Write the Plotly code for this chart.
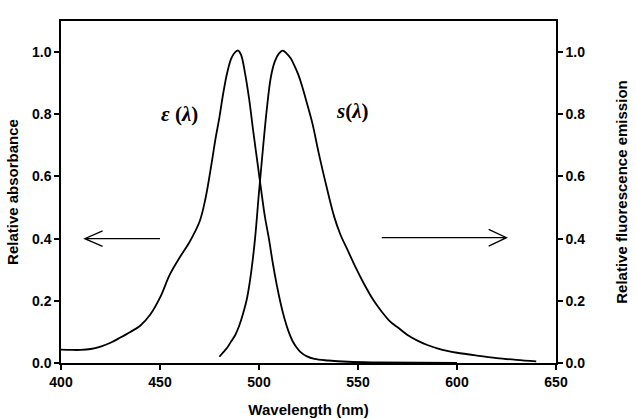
import plotly.graph_objects as go

# absorbance spectrum epsilon(lambda)
abs_wl = [400, 405, 410, 415, 420, 425, 430, 435, 440, 445, 450, 455, 460, 465, 470,
          473, 476, 478, 480, 482, 484, 486, 488, 489.5, 491, 493, 495, 497, 499,
          501, 503, 505, 507, 509, 511, 513, 515, 517, 519, 521, 524, 528, 535, 545,
          560, 600]
abs_val = [0.043, 0.042, 0.042, 0.045, 0.053, 0.065, 0.082, 0.10, 0.12, 0.155, 0.21,
           0.285, 0.34, 0.39, 0.455, 0.53, 0.64, 0.72, 0.79, 0.87, 0.935, 0.98, 1.0,
           1.005, 0.99, 0.93, 0.85, 0.75, 0.655, 0.56, 0.47, 0.40, 0.32, 0.25, 0.19,
           0.14, 0.10, 0.07, 0.05, 0.035, 0.022, 0.013, 0.008, 0.004, 0.002, 0.0]

# fluorescence emission spectrum s(lambda)
em_wl = [480, 482, 484, 486, 488, 490, 492, 494, 496, 498, 500, 502, 504, 506, 508,
         510, 512, 514, 516, 518, 520, 522, 524, 527, 530, 534, 538, 541, 545, 549,
         553, 558, 562, 566, 570, 575, 580, 585, 590, 595, 600, 610, 620, 630, 640]
em_val = [0.02, 0.035, 0.05, 0.07, 0.09, 0.12, 0.16, 0.21, 0.29, 0.40, 0.55, 0.69,
          0.82, 0.92, 0.97, 0.995, 1.005, 0.995, 0.98, 0.955, 0.925, 0.885, 0.84, 0.77,
          0.68, 0.57, 0.47, 0.415, 0.36, 0.305, 0.255, 0.20, 0.165, 0.135, 0.115,
          0.09, 0.072, 0.058, 0.047, 0.039, 0.033, 0.024, 0.016, 0.01, 0.005]

x_ticks = [400, 450, 500, 550, 600, 650]
y_ticks = [0.0, 0.2, 0.4, 0.6, 0.8, 1.0]

font = "Liberation Sans, Arial, sans-serif"
axis_style = dict(showline=True, linecolor="black", linewidth=1.5, ticks="outside",
                  ticklen=5, tickwidth=1.5, tickcolor="black", showgrid=False,
                  zeroline=False, automargin=False,
                  tickfont=dict(family=font, size=14, color="black"))

fig = go.Figure()
fig.add_trace(go.Scatter(x=abs_wl, y=abs_val, mode="lines",
                         line=dict(color="black", width=1.8, shape="spline"),
                         showlegend=False))
fig.add_trace(go.Scatter(x=em_wl, y=em_val, mode="lines", yaxis="y2",
                         line=dict(color="black", width=1.8, shape="spline"),
                         showlegend=False))

# arrows pointing to the axis each curve belongs to
arrow = dict(type="path", xref="x", yref="y", line=dict(color="black", width=1.3))
shapes = [
    dict(arrow, path="M 450 0.4 L 412 0.4 M 421 0.425 L 412 0.4 L 421 0.375"),
    dict(arrow, path="M 562 0.403 L 625 0.403 M 616 0.43 L 625 0.403 L 616 0.376"),
]

fig.update_layout(
    width=636, height=419,
    margin=dict(l=61, r=80, t=21, b=56),
    paper_bgcolor="white", plot_bgcolor="white",
    font=dict(family=font, color="black"),
    shapes=shapes,
    xaxis=dict(axis_style, range=[400, 650], tickvals=x_ticks, mirror=True,
               title=dict(text="<b>Wavelength (nm)</b>", font=dict(size=15), standoff=16)),
    yaxis=dict(axis_style, range=[0, 1.1], tickvals=y_ticks, tickformat=".1f",
               title=dict(text="<b>Relative absorbance</b>", font=dict(size=15), standoff=10)),
    yaxis2=dict(axis_style, range=[0, 1.1], tickvals=y_ticks, tickformat=".1f",
                overlaying="y", side="right",
                title=dict(text="<b>Relative fluorescence emission</b>", font=dict(size=15),
                           standoff=32)),
    annotations=[
        dict(x=460, y=0.8, xref="x", yref="y", showarrow=False,
             text="<b><i>ε</i> (<i>λ</i>)</b>",
             font=dict(family="Liberation Serif, Times New Roman, serif", size=21)),
        dict(x=547, y=0.81, xref="x", yref="y", showarrow=False,
             text="<b><i>s</i>(<i>λ</i>)</b>",
             font=dict(family="Liberation Serif, Times New Roman, serif", size=21)),
    ],
)

# tick labels in bold
fig.update_xaxes(ticktext=["<b>%d</b>" % t for t in x_ticks])
fig.update_yaxes(ticktext=["<b>%.1f</b>" % t for t in y_ticks])

# drop the default body margin so the figure sits at the page corner
fig.write_html("out.html", config={"displayModeBar": False},
               post_script="document.body.style.margin='0';")
